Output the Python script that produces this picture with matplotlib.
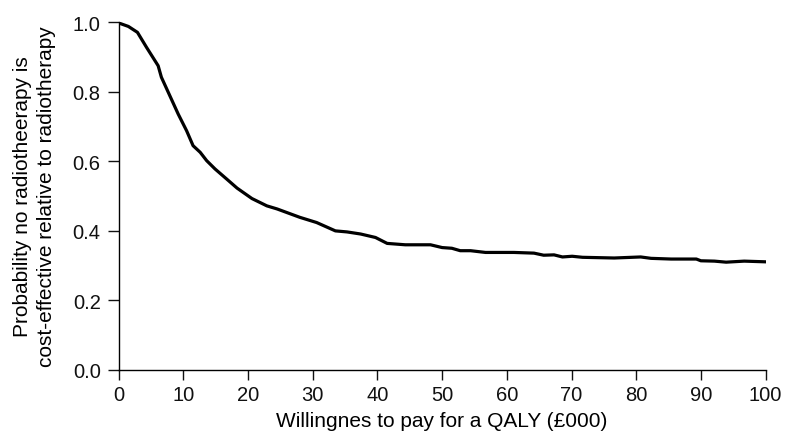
import numpy as np
import matplotlib
matplotlib.use("Agg")
import matplotlib.pyplot as plt

plt.rcParams['font.family'] = ['Liberation Sans', 'DejaVu Sans']

# willingness to pay (£000) and probability no radiotherapy is cost-effective
wtp = [0, 1.5, 2.9, 4.3, 6.1, 6.6, 7.9, 9.2, 10.5, 11.5, 12.6, 13.6, 14.9,
       16.7, 18.3, 20.6, 22.9, 24.5, 28.0, 30.6, 33.5, 35.3, 37.4, 39.7,
       41.5, 44.3, 48.2, 50.0, 51.5, 52.8, 54.4, 56.7, 61.1, 64.2, 65.7,
       67.3, 68.6, 70.1, 71.7, 76.6, 80.7, 82.3, 85.4, 89.3, 90.0, 92.1,
       93.9, 96.7, 100]
prob = [0.998, 0.988, 0.971, 0.928, 0.875, 0.842, 0.789, 0.736, 0.688, 0.645,
        0.626, 0.602, 0.578, 0.549, 0.523, 0.493, 0.472, 0.463, 0.439, 0.424,
        0.400, 0.397, 0.391, 0.381, 0.364, 0.360, 0.360, 0.352, 0.350, 0.343,
        0.343, 0.338, 0.338, 0.336, 0.330, 0.331, 0.325, 0.327, 0.324, 0.322,
        0.325, 0.321, 0.319, 0.319, 0.314, 0.313, 0.310, 0.313, 0.311]

fig = plt.figure(figsize=(7.86, 4.39), dpi=100)
ax = fig.add_axes([0.151, 0.155, 0.823, 0.792])

ax.plot(wtp, prob, color='black', linewidth=2.3, solid_joinstyle='round')

ax.set_xlim(0, 100)
ax.set_ylim(0, 1.0)
ax.set_xticks(np.arange(0, 101, 10))
ax.set_yticks(np.arange(0, 1.01, 0.2))
ax.set_yticklabels(['0.0', '0.2', '0.4', '0.6', '0.8', '1.0'])

for side in ['top', 'right']:
    ax.spines[side].set_visible(False)
for side in ['left', 'bottom']:
    ax.spines[side].set_linewidth(1.0)

ax.tick_params(direction='out', width=1.0, labelsize=14.5, colors='#111111')
ax.tick_params(axis='x', length=7, pad=4)
ax.tick_params(axis='y', length=8, pad=5)

ax.set_xlabel('Willingnes to pay for a QALY (£000)', fontsize=15, labelpad=5)
ax.set_ylabel('Probability no radiotheerapy is\ncost-effective relative to radiotherapy',
              fontsize=15, labelpad=12, linespacing=1.35)

fig.savefig('out.png', dpi=100)
